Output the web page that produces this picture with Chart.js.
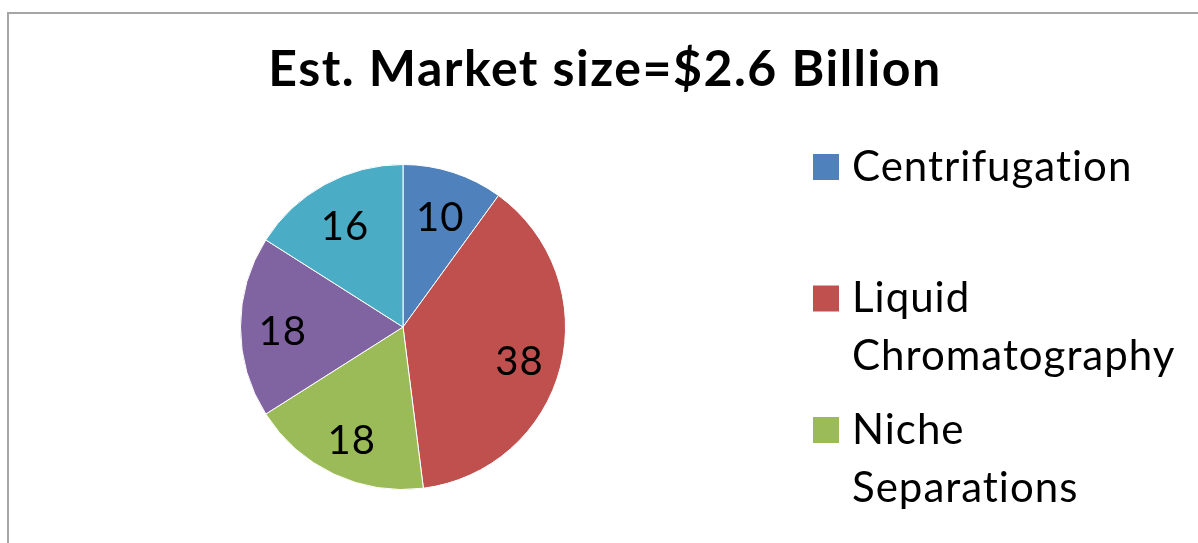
<!DOCTYPE html>
<html>
<head>
<meta charset="utf-8">
<script src="https://cdn.jsdelivr.net/npm/chart.js@4.4.1/dist/chart.umd.min.js"></script>
<style>
  html, body { margin: 0; padding: 0; background: #fff; }
  body { width: 1198px; height: 543px; overflow: hidden; position: relative; }
  #frame { position: absolute; left: 7px; top: 12px; width: 1300px; height: 700px;
           border-left: 2px solid #a6a6a6; border-top: 2px solid #a6a6a6; }
  #wrap { position: absolute; left: 0; top: 0; width: 1198px; height: 543px; }
</style>
</head>
<body>
<div id="frame"></div>
<div id="wrap"><canvas id="c" width="1198" height="543"></canvas></div>
<script>
const titleText = 'Est. Market size=$2.6 Billion';
const categories = ['Centrifugation', 'Liquid Chromatography', 'Niche Separations', 'Electrophoresis', 'Membrane Separation'];
const shares = [10, 38, 18, 18, 16];
const sliceColors = ['#4F81BD', '#C0504D', '#9BBB59', '#8064A2', '#4BACC6'];

const FONT = 'Lato, "Liberation Sans", sans-serif';

function wrapText(ctx, text, maxW) {
  const words = text.split(' ');
  const lines = [];
  let cur = '';
  for (const w of words) {
    const t = cur ? cur + ' ' + w : w;
    if (ctx.measureText(t).width > maxW && cur) { lines.push(cur); cur = w; }
    else cur = t;
  }
  if (cur) lines.push(cur);
  return lines;
}

const decor = {
  id: 'decor',
  afterDraw(chart) {
    const ctx = chart.ctx;
    ctx.save();
    // title
    ctx.fillStyle = '#000';
    ctx.font = 'bold 50px ' + FONT;
    ctx.letterSpacing = '1.5px';
    ctx.textAlign = 'center';
    ctx.textBaseline = 'alphabetic';
    ctx.fillText(titleText, 605, 86);

    // slice value labels
    const meta = chart.getDatasetMeta(0);
    ctx.font = '40px ' + FONT;
    ctx.letterSpacing = '1px';
    ctx.textBaseline = 'middle';
    meta.data.forEach((arc, i) => {
      const p = arc.getProps(['x', 'y', 'startAngle', 'endAngle', 'outerRadius'], true);
      const mid = (p.startAngle + p.endAngle) / 2;
      const r = p.outerRadius * 0.74;
      ctx.fillText(String(shares[i]), p.x + Math.cos(mid) * r, p.y + Math.sin(mid) * r + 5);
    });

    // legend
    ctx.font = '42px ' + FONT;
    ctx.letterSpacing = '1px';
    ctx.textAlign = 'left';
    const boxX = 813, boxSize = 26, textX = 852, firstY = 167, slot = 131.5, lineH = 58;
    categories.forEach((cat, i) => {
      const y = firstY + i * slot;
      ctx.fillStyle = sliceColors[i];
      ctx.fillRect(boxX, y - boxSize / 2, boxSize, boxSize);
      ctx.fillStyle = '#000';
      wrapText(ctx, cat, 280).forEach((ln, k) => ctx.fillText(ln, textX, y + k * lineH));
    });
    ctx.restore();
  }
};

new Chart(document.getElementById('c'), {
  type: 'pie',
  data: {
    labels: categories,
    datasets: [{
      data: shares,
      backgroundColor: sliceColors,
      borderColor: '#ffffff',
      borderWidth: 1
    }]
  },
  options: {
    responsive: false,
    animation: false,
    layout: { padding: { left: 240, right: 632, top: 164, bottom: 53 } },
    plugins: { legend: { display: false }, title: { display: false }, tooltip: { enabled: false } }
  },
  plugins: [decor]
});
</script>
</body>
</html>
